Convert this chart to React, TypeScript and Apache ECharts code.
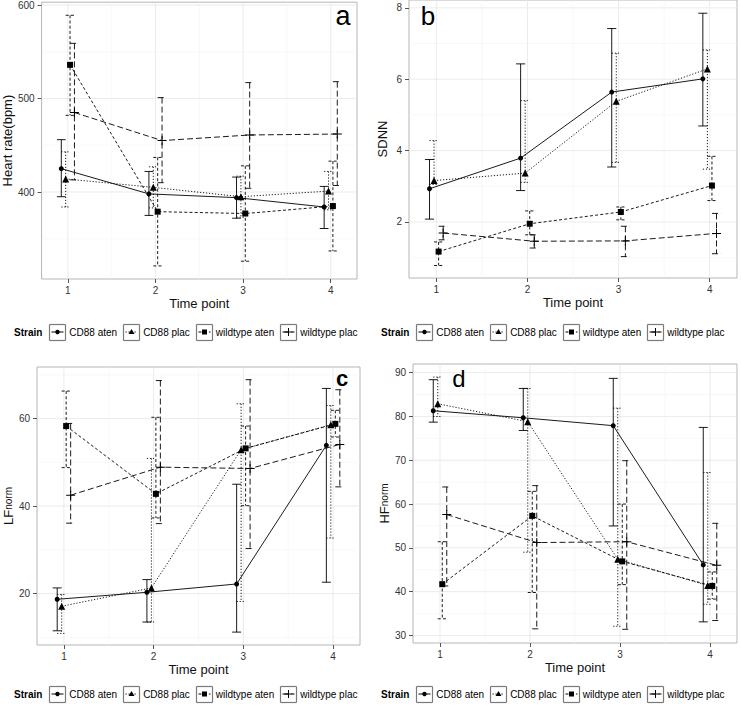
import React, { useEffect, useRef } from "react";
import * as echarts from "echarts";

// ---------- data ----------
const timePoints = [1, 2, 3, 4];
const strains = ["CD88 aten", "CD88 plac", "wildtype aten", "wildtype plac"];
const dodgeOffsets = [-0.075, -0.025, 0.025, 0.075];

// Panel a: Heart rate (bpm)  rows = strains, cols = time points
const hrMean = [
  [425, 398, 394, 384],
  [414, 405, 395, 401],
  [536, 379, 377, 385],
  [485, 455, 461, 462],
];
const hrLow = [
  [395, 375, 372, 361],
  [384, 383, 373, 381],
  [482, 321, 326, 337],
  [413, 410, 404, 407],
];
const hrHigh = [
  [456, 422, 416, 406],
  [443, 427, 417, 422],
  [589, 437, 428, 433],
  [559, 501, 517, 518],
];
const hrTicks = [400, 500, 600];
const hrMinor = [350, 450, 550];

// Panel b: SDNN
const sdnnMean = [
  [2.93, 3.79, 5.64, 6.01],
  [3.16, 3.37, 5.38, 6.29],
  [1.17, 1.95, 2.28, 3.02],
  [1.69, 1.46, 1.47, 1.68],
];
const sdnnLow = [
  [2.08, 2.88, 3.54, 4.69],
  [3.05, 3.11, 3.67, 3.48],
  [0.78, 1.64, 2.06, 2.6],
  [1.5, 1.27, 1.03, 1.11],
];
const sdnnHigh = [
  [3.75, 6.43, 7.42, 7.85],
  [4.28, 5.4, 6.73, 6.82],
  [1.44, 2.31, 2.42, 3.84],
  [1.88, 1.64, 1.88, 2.24],
];
const sdnnTicks = [2, 4, 6, 8];
const sdnnMinor = [1, 3, 5, 7];

// Panel c: LFnorm
const lfMean = [
  [18.7, 20.3, 22.2, 53.9],
  [17.1, 21.3, 52.9, 58.6],
  [58.3, 42.8, 53.2, 58.8],
  [42.5, 48.9, 48.6, 54.1],
];
const lfLow = [
  [11.5, 13.5, 11.2, 22.6],
  [10.9, 13.5, 18.2, 32.7],
  [48.8, 37.3, 40.1, 55.8],
  [36.1, 36.0, 30.3, 44.4],
];
const lfHigh = [
  [21.3, 23.2, 45.0, 66.9],
  [19.8, 50.9, 63.4, 63.0],
  [66.3, 60.3, 58.3, 61.9],
  [58.9, 68.7, 68.9, 66.6],
];
const lfTicks = [20, 40, 60];
const lfMinor = [10, 30, 50, 70];

// Panel d: HFnorm
const hfMean = [
  [81.3, 79.7, 77.9, 46.1],
  [82.9, 78.8, 47.4, 41.4],
  [41.7, 57.3, 46.9, 41.3],
  [57.6, 51.2, 51.4, 46.0],
];
const hfLow = [
  [78.7, 76.8, 55.0, 33.1],
  [80.0, 49.0, 32.1, 37.1],
  [33.8, 39.8, 41.6, 38.3],
  [41.3, 31.5, 31.4, 33.4],
];
const hfHigh = [
  [88.4, 86.4, 88.7, 77.5],
  [89.0, 86.4, 81.9, 67.2],
  [51.4, 62.9, 60.0, 44.5],
  [63.9, 64.2, 69.9, 55.6],
];
const hfTicks = [30, 40, 50, 60, 70, 80, 90];
const hfMinor = [35, 45, 55, 65, 75, 85];

const xMinor = [1.5, 2.5, 3.5];

// ---------- styling ----------
const FONT = '"Liberation Sans", Arial, Helvetica, sans-serif';
const dashes: (number[] | null)[] = [null, [1.2, 1.8], [3, 2.2], [6, 3]];
const symbols = [
  "circle",
  "triangle",
  "rect",
  "path://M4,0h1v4h4v1h-4v4h-1v-4h-4v-1h4z",
];
const symbolSizes = [5, 7, 6, 9];

const panels = [
  {
    letter: "a", letterX: 343, letterY: 16, letterSize: 27, letterWeight: "normal",
    grid: { left: 40, top: 1, width: 317, height: 278 },
    yMin: 307, yMax: 603, ticks: hrTicks, minor: hrMinor,
    mean: hrMean, low: hrLow, high: hrHigh,
    yName: "Heart rate(bpm)", yNameGap: 24,
  },
  {
    letter: "b", letterX: 428, letterY: 16, letterSize: 26, letterWeight: "normal",
    grid: { left: 409, top: 0, width: 328, height: 278 },
    yMin: 0.43, yMax: 8.22, ticks: sdnnTicks, minor: sdnnMinor,
    mean: sdnnMean, low: sdnnLow, high: sdnnHigh,
    yName: "SDNN", yNameGap: 20,
  },
  {
    letter: "c", letterX: 342, letterY: 378, letterSize: 22, letterWeight: "bold",
    grid: { left: 37, top: 367, width: 323, height: 278 },
    yMin: 8.25, yMax: 71.8, ticks: lfTicks, minor: lfMinor,
    mean: lfMean, low: lfLow, high: lfHigh,
    yName: "{big|LF}{small|norm}", yNameGap: 18,
  },
  {
    letter: "d", letterX: 459, letterY: 378, letterSize: 24, letterWeight: "normal",
    grid: { left: 413, top: 364, width: 324, height: 279 },
    yMin: 28.27, yMax: 91.98, ticks: hfTicks, minor: hfMinor,
    mean: hfMean, low: hfLow, high: hfHigh,
    yName: "{big|HF}{small|norm}", yNameGap: 19,
  },
];

const legendSpots = [
  { x: 14, y: 332 },
  { x: 381, y: 332 },
  { x: 14, y: 694 },
  { x: 381, y: 694 },
];

function measure(text: string, font: string): number {
  const c = document.createElement("canvas").getContext("2d");
  if (!c) return text.length * 5;
  c.font = font;
  return c.measureText(text).width;
}

function legendGraphics(x0: number, yc: number): any[] {
  const els: any[] = [];
  const fs = 10;
  const normal = `${fs}px ${FONT}`;
  const bold = `bold ${fs}px ${FONT}`;
  els.push({
    type: "text", x: x0, y: yc, silent: true, z: 20,
    style: { text: "Strain", font: bold, fill: "#000", verticalAlign: "middle", align: "left" },
  });
  let x = x0 + measure("Strain", bold) + 7;
  const box = 16;
  strains.forEach((name, i) => {
    const bx = Math.round(x) + 0.5;
    const by = Math.round(yc - box / 2) + 0.5;
    const sides = [
      [bx, by, bx + box, by],
      [bx, by + box, bx + box, by + box],
      [bx, by, bx, by + box],
      [bx + box, by, bx + box, by + box],
    ];
    sides.forEach((s) => {
      els.push({
        type: "line", silent: true, z: 23,
        shape: { x1: s[0], y1: s[1], x2: s[2], y2: s[3] },
        style: { stroke: "#7a7a7a", lineWidth: 1.2 },
      });
    });
    els.push({
      type: "line", silent: true, z: 21,
      shape: { x1: bx + 2, y1: yc, x2: bx + box - 2, y2: yc },
      style: { stroke: "#000", lineWidth: 1, lineDash: dashes[i] || undefined },
    });
    const cx = bx + box / 2;
    if (i === 0) {
      els.push({ type: "circle", silent: true, z: 22, shape: { cx, cy: yc, r: 2.2 }, style: { fill: "#000" } });
    } else if (i === 1) {
      els.push({
        type: "polygon", silent: true, z: 22,
        shape: { points: [[cx, yc - 3], [cx - 3, yc + 2], [cx + 3, yc + 2]] },
        style: { fill: "#000" },
      });
    } else if (i === 2) {
      els.push({ type: "polygon", silent: true, z: 22, shape: { points: [[cx - 2.5, yc - 2.5], [cx + 2.5, yc - 2.5], [cx + 2.5, yc + 2.5], [cx - 2.5, yc + 2.5]] }, style: { fill: "#000" } });
    } else {
      els.push({ type: "line", silent: true, z: 22, shape: { x1: cx, y1: yc - 4, x2: cx, y2: yc + 4 }, style: { stroke: "#000", lineWidth: 1 } });
      els.push({ type: "line", silent: true, z: 22, shape: { x1: cx - 4, y1: yc, x2: cx + 4, y2: yc }, style: { stroke: "#000", lineWidth: 1 } });
    }
    x += box + 4;
    els.push({
      type: "text", x: x, y: yc, silent: true, z: 20,
      style: { text: name, font: normal, fill: "#000", verticalAlign: "middle", align: "left" },
    });
    x += measure(name, normal) + 6;
  });
  return els;
}

function buildOption() {
  const grid: any[] = [];
  const xAxis: any[] = [];
  const yAxis: any[] = [];
  const series: any[] = [];
  const graphic: any[] = [];

  panels.forEach((p, pi) => {
    grid.push({
      ...p.grid,
      show: true,
      backgroundColor: "#fff",
      borderColor: "#b5b5b5",
      borderWidth: 1,
      containLabel: false,
    });
    xAxis.push({
      type: "value", gridIndex: pi, min: 0.7, max: 4.3,
      axisLine: { show: false },
      axisTick: { show: true, customValues: timePoints, length: 4, lineStyle: { color: "#555", width: 1 } },
      axisLabel: { customValues: timePoints, fontSize: 10, color: "#333", margin: 6, fontFamily: FONT },
      splitLine: { show: false },
      name: "Time point", nameLocation: "middle", nameGap: 18,
      nameTextStyle: { fontSize: 13, color: "#111", fontFamily: FONT, fontWeight: 400 },
    });
    yAxis.push({
      type: "value", gridIndex: pi, min: p.yMin, max: p.yMax,
      axisLine: { show: false },
      axisTick: { show: true, customValues: p.ticks, length: 4, lineStyle: { color: "#555", width: 1 } },
      axisLabel: { customValues: p.ticks, fontSize: 10, color: "#333", margin: 7, fontFamily: FONT },
      splitLine: { show: false },
      name: p.yName, nameLocation: "middle", nameGap: p.yNameGap, nameRotate: 90,
      nameTextStyle: {
        fontSize: 13, color: "#111", fontFamily: FONT, fontWeight: 400,
        rich: {
          big: { fontSize: 13, fontFamily: FONT, color: "#111", fontWeight: 400 },
          small: { fontSize: 10, fontFamily: FONT, color: "#111", fontWeight: 400 },
        },
      },
    });

    // grid lines
    const gridData: number[][] = [];
    timePoints.forEach((v) => gridData.push([v, 0, 1]));
    xMinor.forEach((v) => gridData.push([v, 0, 0]));
    p.ticks.forEach((v) => gridData.push([v, 1, 1]));
    p.minor.forEach((v) => gridData.push([v, 1, 0]));
    series.push({
      type: "custom", xAxisIndex: pi, yAxisIndex: pi, silent: true, z: 1,
      data: gridData,
      encode: { x: 0, y: 1 },
      renderItem: (params: any, api: any) => {
        const v = api.value(0);
        const dir = api.value(1);
        const major = api.value(2);
        const cs = params.coordSys;
        let shape;
        if (dir === 0) {
          const px = api.coord([v, p.yMin])[0];
          shape = { x1: px, y1: cs.y, x2: px, y2: cs.y + cs.height };
        } else {
          const py = api.coord([1, v])[1];
          shape = { x1: cs.x, y1: py, x2: cs.x + cs.width, y2: py };
        }
        return {
          type: "line", shape,
          style: { stroke: major ? "#e6e6e6" : "#f4f4f4", lineWidth: major ? 0.8 : 0.6 },
        };
      },
    });

    strains.forEach((name, si) => {
      const off = dodgeOffsets[si];
      const ebData = timePoints.map((t, ti) => [t + off, p.low[si][ti], p.high[si][ti]]);
      series.push({
        type: "custom", xAxisIndex: pi, yAxisIndex: pi, silent: true, z: 2,
        data: ebData,
        encode: { x: 0, y: [1, 2] },
        renderItem: (params: any, api: any) => {
          const x = api.value(0);
          const lo = api.value(1);
          const hi = api.value(2);
          const top = api.coord([x, hi]);
          const bot = api.coord([x, lo]);
          const l = api.coord([x - 0.05, hi])[0];
          const r = api.coord([x + 0.05, hi])[0];
          const style: any = { stroke: "#000", lineWidth: 0.9, lineDash: dashes[si] || undefined };
          return {
            type: "group",
            children: [
              { type: "line", shape: { x1: top[0], y1: top[1], x2: bot[0], y2: bot[1] }, style },
              { type: "line", shape: { x1: l, y1: top[1], x2: r, y2: top[1] }, style },
              { type: "line", shape: { x1: l, y1: bot[1], x2: r, y2: bot[1] }, style },
            ],
          };
        },
      });
      series.push({
        type: "line", name, xAxisIndex: pi, yAxisIndex: pi, silent: true, z: 3,
        data: timePoints.map((t, ti) => [t + off, p.mean[si][ti]]),
        symbol: symbols[si], symbolSize: symbolSizes[si], showSymbol: true,
        lineStyle: { color: "#000", width: 0.9, type: dashes[si] || "solid" },
        itemStyle: { color: "#000" },
      });
    });

    graphic.push({
      type: "text", x: p.letterX, y: p.letterY, silent: true, z: 10,
      style: {
        text: p.letter, fill: "#000", align: "center", verticalAlign: "middle",
        font: `${p.letterWeight} ${p.letterSize}px ${FONT}`,
      },
    });
  });

  legendSpots.forEach((s) => graphic.push(...legendGraphics(s.x, s.y)));

  return {
    animation: false,
    backgroundColor: "#fff",
    grid, xAxis, yAxis, series,
    graphic: { elements: graphic },
  };
}

export default function App() {
  const ref = useRef<HTMLDivElement>(null);
  useEffect(() => {
    if (!ref.current) return;
    const chart = echarts.init(ref.current, undefined, { renderer: "svg" });
    chart.setOption(buildOption() as any);
    return () => chart.dispose();
  }, []);
  return (
    <div
      ref={ref}
      style={{ position: "absolute", left: 0, top: 0, width: 741, height: 711 }}
    />
  );
}
